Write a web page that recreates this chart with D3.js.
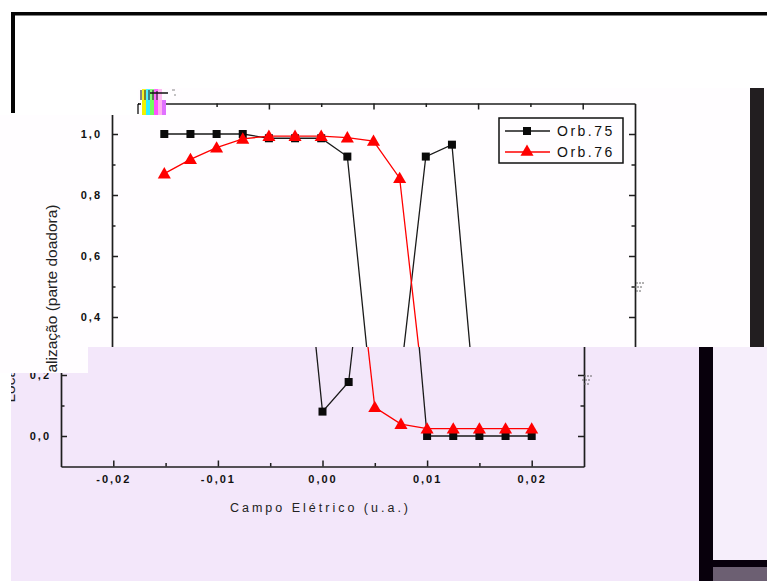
<!DOCTYPE html>
<html>
<head>
<meta charset="utf-8">
<script src="https://cdn.jsdelivr.net/npm/d3@7"></script>
<style>
  html, body { margin: 0; padding: 0; background: #ffffff; }
  svg { display: block; }
  text { font-family: "Liberation Sans", Arial, sans-serif; }
</style>
</head>
<body>
<svg id="chart" width="767" height="581"></svg>
<script>
// Electric field values (u.a.)
const campo = [-0.02, -0.0175, -0.015, -0.0125, -0.01, -0.0075, -0.005, -0.0025,
               0.0, 0.0025, 0.005, 0.0075, 0.01, 0.0125, 0.015, 0.0175, 0.02];
// Localization on the donor part for each orbital
const orb75 = [1.0, 1.0, 1.0, 1.0, 0.986, 0.986, 0.986, 0.926,
               0.08, 0.177, 0.926, 0.965, 0.0, 0.0, 0.0, 0.0, 0.0];
const orb76 = [0.87, 0.917, 0.955, 0.984, 0.993, 0.993, 0.993, 0.988,
               0.977, 0.855, 0.094, 0.039, 0.024, 0.024, 0.024, 0.024, 0.024];
const seriesNames = ["Orb.75", "Orb.76"];
const xMajorTicks = [-0.02, -0.01, 0.0, 0.01, 0.02];
const xMinorTicks = [-0.015, -0.005, 0.005, 0.015];
const yMajorTicks = [0.0, 0.2, 0.4, 0.6, 0.8, 1.0];
const yMinorTicks = [0.1, 0.3, 0.5, 0.7, 0.9];
const xTitle = "Campo Elétrico (u.a.)";
const yTitle = "Localização (parte doadora)";

const W = 767, H = 581;
const svg = d3.select("#chart");
const defs = svg.append("defs");

const x = d3.scaleLinear().domain([-0.025, 0.025]).range([61, 584]);
const y = d3.scaleLinear().domain([-0.1, 1.1]).range([466.5, 100.5]);
const comma = d => d3.format(".2f")(d).replace("−", "-").replace(".", ",");
const commaY = d => d3.format(".1f")(d).replace(".", ",");

// Slide frame behind the figure
svg.append("rect").attr("x", 0).attr("y", 0).attr("width", W).attr("height", H).attr("fill", "#ffffff");
svg.append("rect").attr("x", 11).attr("y", 12).attr("width", W - 11).attr("height", 3.5).attr("fill", "#050505");
svg.append("rect").attr("x", 11).attr("y", 12).attr("width", 4).attr("height", 101).attr("fill", "#050505");

// Two display bands of the figure
defs.append("clipPath").attr("id", "clipTop").append("polygon")
  .attr("points", "138,88 767,88 767,347 88,347 88,373 0,373 0,115 138,115");
defs.append("clipPath").attr("id", "clipLow").append("polygon")
  .attr("points", "88,347 767,347 767,581 11,581 11,373 88,373");

function drawChart(g, opt) {
  const lower = opt.lower;
  // right edge of the slide frame
  if (lower) {
    g.append("rect").attr("x", 713).attr("y", 0).attr("width", 80).attr("height", 560).attr("fill", "#f6eefb");
    g.append("rect").attr("x", 713).attr("y", 560).attr("width", 80).attr("height", 7).attr("fill", "#08000c");
    g.append("rect").attr("x", 713).attr("y", 567).attr("width", 80).attr("height", 20).attr("fill", "#6c5f72");
  }
  g.append("rect").attr("x", 699).attr("y", -10).attr("width", 14).attr("height", 600)
    .attr("fill", lower ? "#08000c" : "#221e20");

  const axisStyle = sel => {
    sel.select(".domain").attr("stroke", "#1e1e1e").attr("stroke-width", 1.7);
    sel.selectAll(".tick line").attr("stroke", "#1e1e1e").attr("stroke-width", 1.5);
  };

  // bottom axis
  const gb = g.append("g").attr("transform", `translate(0,${y(-0.1)})`)
    .call(d3.axisBottom(x).tickValues(xMajorTicks).tickSize(-6).tickSizeOuter(0).tickPadding(9)
      .tickFormat(opt.xText ? comma : ""));
  g.append("g").attr("transform", `translate(0,${y(-0.1)})`)
    .call(d3.axisBottom(x).tickValues(xMinorTicks).tickSize(-3.5).tickSizeOuter(0).tickFormat(""))
    .call(s => s.select(".domain").remove()).call(axisStyle);
  gb.call(axisStyle);
  if (opt.xText) {
    gb.selectAll(".tick text").attr("font-size", 11).attr("font-weight", "bold")
      .attr("letter-spacing", 2).attr("fill", "#111");
  } else {
    gb.selectAll(".tick text").remove();
  }

  // top axis
  const gt = g.append("g").attr("transform", `translate(0,${y(1.1)})`)
    .call(d3.axisTop(x).tickValues(xMajorTicks).tickSize(-6).tickSizeOuter(0).tickFormat(""));
  gt.call(axisStyle);
  gt.selectAll(".tick text").remove();
  g.append("g").attr("transform", `translate(0,${y(1.1)})`)
    .call(d3.axisTop(x).tickValues(xMinorTicks).tickSize(-3.5).tickSizeOuter(0).tickFormat(""))
    .call(s => s.select(".domain").remove()).call(axisStyle);

  // left axis (labels only where the band shows them)
  const gl = g.append("g").attr("transform", `translate(${x(-0.025)},0)`)
    .call(d3.axisLeft(y).tickValues(yMajorTicks).tickSize(-6).tickSizeOuter(0).tickPadding(12).tickFormat(commaY));
  gl.call(axisStyle);
  gl.selectAll(".tick text").attr("font-size", 11).attr("font-weight", "bold")
    .attr("letter-spacing", 2).attr("fill", "#111").attr("dx", 2);
  gl.selectAll(".tick").filter(d => !opt.yLabels.includes(d)).select("text").remove();
  g.append("g").attr("transform", `translate(${x(-0.025)},0)`)
    .call(d3.axisLeft(y).tickValues(yMinorTicks).tickSize(-3.5).tickSizeOuter(0).tickFormat(""))
    .call(s => s.select(".domain").remove()).call(axisStyle);

  // right axis
  const gr = g.append("g").attr("transform", `translate(${x(0.025)},0)`)
    .call(d3.axisRight(y).tickValues(yMajorTicks).tickSize(-6).tickSizeOuter(0).tickFormat(""));
  gr.call(axisStyle);
  gr.selectAll(".tick text").remove();
  g.append("g").attr("transform", `translate(${x(0.025)},0)`)
    .call(d3.axisRight(y).tickValues(yMinorTicks).tickSize(-3.5).tickSizeOuter(0).tickFormat(""))
    .call(s => s.select(".domain").remove()).call(axisStyle);

  // axis titles
  if (opt.xText) {
    g.append("text").attr("x", (x(-0.025) + x(0.025)) / 2 - 2).attr("y", 512)
      .attr("text-anchor", "middle").attr("font-size", 12.5).attr("letter-spacing", 3)
      .attr("fill", "#222").text(xTitle);
  }
  g.append("text").attr("transform", `translate(${opt.yTitlePos[0]},${opt.yTitlePos[1]}) rotate(-90)`)
    .attr("text-anchor", "middle").attr("font-size", 15.5).attr("fill", "#222").text(yTitle);

  // series
  const pts = (vals) => campo.map((c, i) => [x(c), y(vals[i])]);
  const line = d3.line();
  const tri = d3.symbol().type(d3.symbolTriangle).size(74);

  g.append("path").attr("d", line(pts(orb75))).attr("fill", "none")
    .attr("stroke", "#1a1a1a").attr("stroke-width", 1.3);
  g.selectAll(null).data(pts(orb75)).enter().append("rect")
    .attr("x", d => d[0] - 4).attr("y", d => d[1] - 4).attr("width", 8).attr("height", 8)
    .attr("fill", "#0a0a0a");

  g.append("path").attr("d", line(pts(orb76))).attr("fill", "none")
    .attr("stroke", "#ff0000").attr("stroke-width", 1.3);
  g.selectAll(null).data(pts(orb76)).enter().append("path")
    .attr("d", tri).attr("transform", d => `translate(${d[0]},${d[1] + 1})`)
    .attr("fill", "#ff0000");

  // legend
  if (opt.legend) {
    const lg = g.append("g");
    lg.append("rect").attr("x", 448).attr("y", 115).attr("width", 124).attr("height", 45)
      .attr("fill", "none").attr("stroke", "#111").attr("stroke-width", 1.5);
    [[128, "#1a1a1a", "sq"], [149, "#ff0000", "tri"]].forEach((row, i) => {
      lg.append("line").attr("x1", 454).attr("x2", 499).attr("y1", row[0]).attr("y2", row[0])
        .attr("stroke", row[1]).attr("stroke-width", 1.3);
      if (row[2] === "sq") {
        lg.append("rect").attr("x", 472).attr("y", row[0] - 4).attr("width", 8).attr("height", 8).attr("fill", "#0a0a0a");
      } else {
        lg.append("path").attr("d", tri).attr("transform", `translate(476,${row[0]})`).attr("fill", "#ff0000");
      }
      lg.append("text").attr("x", 506).attr("y", row[0] + 5).attr("font-size", 14)
        .attr("letter-spacing", 2.5).attr("fill", "#111").text(seriesNames[i]);
    });
  }
}

// upper band of the figure
const upperBand = svg.append("g").attr("clip-path", "url(#clipTop)");
upperBand.append("rect").attr("x", 0).attr("y", 0).attr("width", W).attr("height", H).attr("fill", "#fffdff");
drawChart(upperBand.append("g").attr("transform", "translate(51,3)"),
  { lower: false, xText: false, legend: true, yLabels: [0.2, 0.4, 0.6, 0.8, 1.0], yTitlePos: [6, 298] });

// lower band of the figure
const lowerBand = svg.append("g").attr("clip-path", "url(#clipLow)");
lowerBand.append("rect").attr("x", 0).attr("y", 0).attr("width", W).attr("height", H).attr("fill", "#f3e7fa");
drawChart(lowerBand.append("g"),
  { lower: true, xText: true, legend: false, yLabels: [0.0, 0.2], yTitlePos: [15, 306] });

// coloured strip in the corner of the figure
const strip = [["#ffffff", 139], ["#f2f200", 142], ["#30f0ff", 146], ["#70ff60", 150],
               ["#ff50ff", 154], ["#ffb0f0", 158], ["#e070ff", 162]];
strip.forEach(s => svg.append("rect").attr("x", s[1]).attr("y", 100).attr("width", 4).attr("height", 15).attr("fill", s[0]));
strip.slice(1, 6).forEach(s => svg.append("rect").attr("x", s[1]).attr("y", 89).attr("width", 4).attr("height", 11).attr("fill", s[0]).attr("opacity", 0.85));
svg.append("path").attr("d", "M141,100 V90 M145,100 V90 M149,100 V90 M153,100 V90 M157,100 V91")
  .attr("stroke", "#333").attr("stroke-width", 1.2);
svg.append("line").attr("x1", 150).attr("x2", 168).attr("y1", 93).attr("y2", 93).attr("stroke", "#111").attr("stroke-width", 1.5);
svg.append("path").attr("d", "M138,104 V114 M138,104 H141").attr("stroke", "#111").attr("stroke-width", 1.3).attr("fill", "none");
svg.append("path").attr("d", "M172,90 h3 M174,95 h2").attr("stroke", "#888").attr("stroke-width", 1);

// small marks beside the right axes
[[636, 283], [584, 376]].forEach(p => {
  svg.append("path").attr("d", `M${p[0]},${p[1]} h8 M${p[0] - 2},${p[1] + 4} h9 M${p[0]},${p[1] + 8} h6`)
    .attr("stroke", "#666").attr("stroke-width", 1).attr("stroke-dasharray", "2,1");
});
</script>
</body>
</html>
